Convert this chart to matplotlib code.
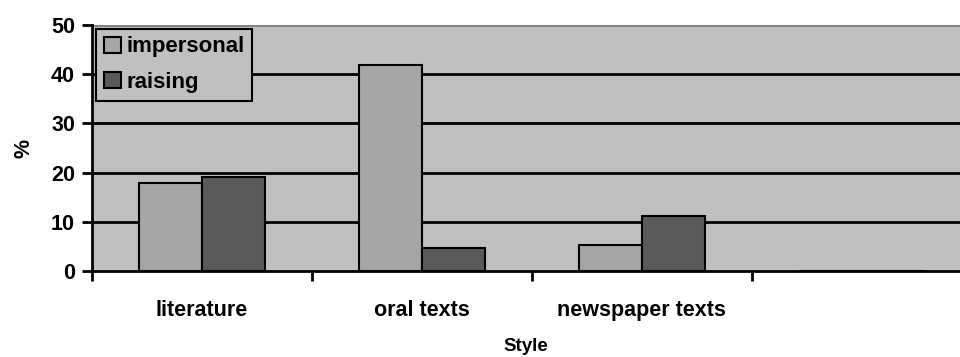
import numpy as np
import matplotlib.pyplot as plt

plt.rcParams['font.family'] = ['Liberation Sans', 'DejaVu Sans']
plt.rcParams['font.weight'] = 'bold'

categories = ['literature', 'oral texts', 'newspaper texts', '']
series_names = ['impersonal', 'raising']
impersonal = [17.9, 41.8, 5.2, 0]
raising = [19.0, 4.75, 11.2, 0]
yticks = [0, 10, 20, 30, 40, 50]

fig = plt.figure(figsize=(9.6, 3.57), dpi=100)
ax = fig.add_axes([0.0955, 0.241, 0.9045, 0.689])
ax.set_facecolor('#C0C0C0')

x = np.arange(len(categories))
w = 0.286
ax.bar(x - w/2, impersonal, w, color='#A6A6A6', edgecolor='black', linewidth=1.5,
       label=series_names[0], zorder=3)
ax.bar(x + w/2, raising, w, color='#5A5A5A', edgecolor='black', linewidth=1.5,
       label=series_names[1], zorder=3)

ax.set_ylim(0, 50)
ax.set_xlim(-0.5, 3.447)
ax.set_yticks(yticks)
ax.set_yticklabels([str(t) for t in yticks], fontsize=15.5, fontweight='bold')
for t in yticks[1:-1]:
    ax.axhline(t, color='black', linewidth=2, zorder=2)
ax.axhline(50, color='#808080', linewidth=2, zorder=2)

# category labels in the middle, ticks on the boundaries
ax.set_xticks([-0.5, 0.5, 1.5, 2.5])
ax.set_xticklabels([])
ax.set_xticks(x[:3], categories[:3], minor=True)
ax.tick_params(axis='x', which='minor', length=0, pad=21, labelsize=15.5)
ax.tick_params(axis='x', which='major', length=7, width=2, direction='out')
ax.tick_params(axis='y', length=7, width=2, direction='out', pad=5)
for lab in ax.get_xticklabels(minor=True):
    lab.set_fontweight('bold')

for s in ['top', 'right']:
    ax.spines[s].set_visible(False)
ax.spines['left'].set_linewidth(2)
ax.spines['bottom'].set_linewidth(2)

ax.set_xlabel('Style', fontsize=13.5, fontweight='bold', labelpad=12)
ax.set_ylabel('%', fontsize=15.5, fontweight='bold', labelpad=12)

leg = ax.legend(loc='upper left', bbox_to_anchor=(0.0055, 0.985), frameon=True,
                fancybox=False, edgecolor='black', facecolor='#C0C0C0', framealpha=1,
                fontsize=16, handlelength=0.75, handleheight=0.75, handletextpad=0.25,
                borderpad=0.35, labelspacing=0.65, borderaxespad=0)
leg.get_frame().set_linewidth(1.5)
for t in leg.get_texts():
    t.set_fontweight('bold')

fig.savefig('out.png', dpi=100)
